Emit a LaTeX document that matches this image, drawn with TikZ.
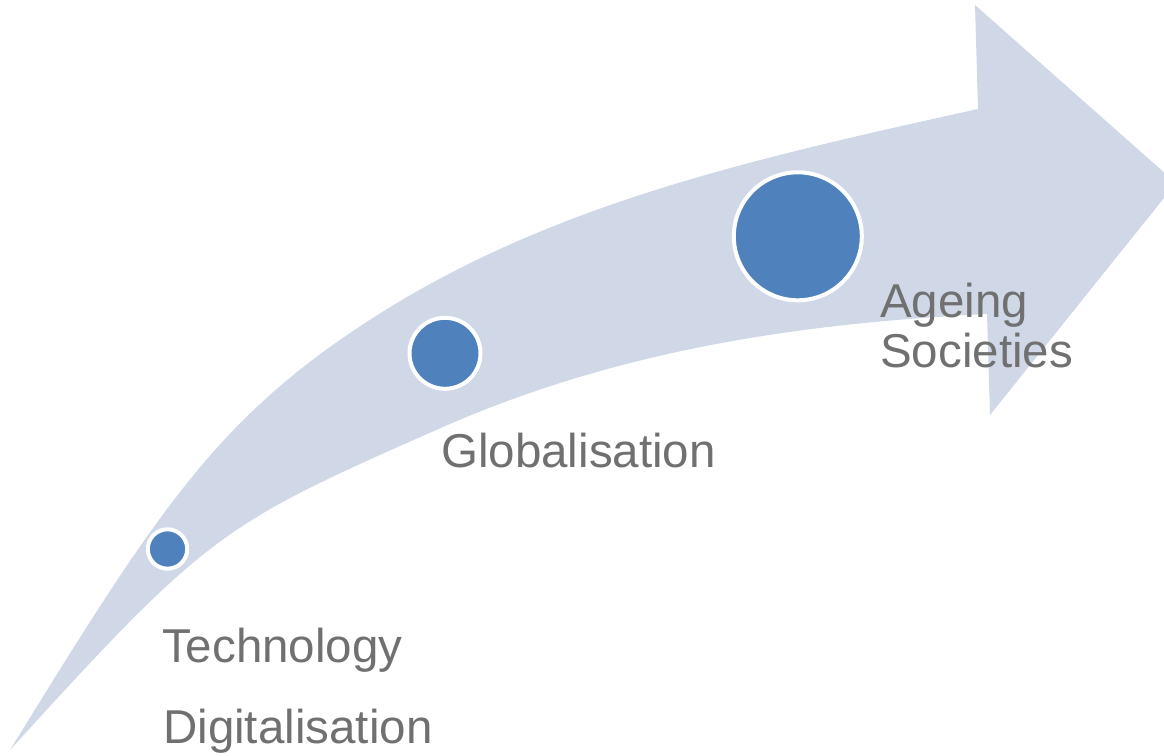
\documentclass[tikz,border=0pt]{standalone}
\usepackage{fontspec}
\setmainfont{Liberation Sans}
\definecolor{bandcol}{RGB}{208,216,232}
\definecolor{dotcol}{RGB}{79,129,189}
\definecolor{txtcol}{RGB}{112,112,112}
\begin{document}
\begin{tikzpicture}[x=1pt,y=-1pt,
  dotnode/.style={circle,fill=dotcol,draw=white,line width=4pt,inner sep=0pt},
  label/.style={anchor=base west,inner sep=0pt,text=txtcol,font=\fontsize{47.5}{50}\selectfont,align=left}]
\useasboundingbox (0,0) rectangle (1164,755);
\begin{scope}
\clip (0,0) rectangle (1164,755);
\fill[bandcol]
  (10,750) .. controls (150,523) and (210,428) .. (350,333)
  .. controls (530,210.6) and (728,164) .. (978,109)
  -- (975,5) -- (1176,183) -- (990,415) -- (987,314)
  .. controls (807,323) and (623,348) .. (443,427)
  .. controls (223,524) and (210,530) .. (10,750)
  -- cycle;
\end{scope}
\node[dotnode,minimum size=39.4pt] (d1) at (167.5,549) {};
\node[dotnode,minimum size=71pt] (d2) at (445,353.3) {};
\node[dotnode,minimum size=128pt] (d3) at (797.8,236.3) {};
\node[label] (t1) at (162,662) {Technology};
\node[label] (t2) at (163,743) {Digitalisation};
\node[label] (t3) at (441,467) {Globalisation};
\node[label,anchor=north west] (t4) at (880,283) {Ageing\\Societies};
\end{tikzpicture}
\end{document}
